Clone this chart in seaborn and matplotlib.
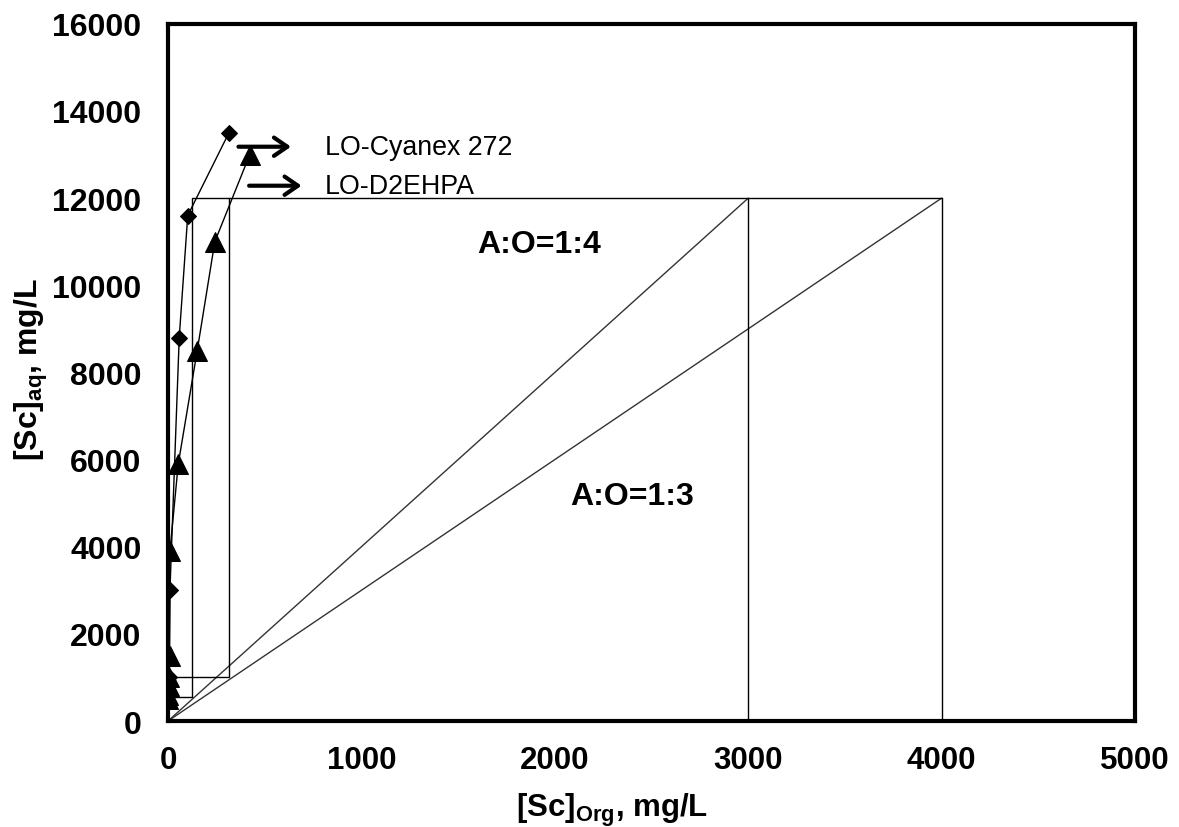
import matplotlib
matplotlib.use("Agg")
import matplotlib.pyplot as plt
import seaborn as sns
import pandas as pd

# Equilibrium data
cyanex_org = [2, 5, 10, 58, 102, 315]
cyanex_aq = [600, 1000, 3000, 8800, 11600, 13500]

d2ehpa_org = [0, 2, 4, 6, 8, 10, 53, 151, 242, 423]
d2ehpa_aq = [500, 600, 800, 1000, 1500, 3900, 5900, 8500, 11000, 13000]

# Operating lines and stage steps
op_lines = {"A:O=1:4": ([0, 3000], [0, 12000]), "A:O=1:3": ([0, 4000], [0, 12000])}
step_cyanex = ([20, 122, 122, 4000], [550, 550, 12000, 12000])
step_d2ehpa = ([20, 315, 315], [1000, 1000, 12000])
drop_lines = [3000, 4000]

sns.set_theme(style="white")
plt.rcParams["font.family"] = ["Liberation Sans", "DejaVu Sans"]
plt.rcParams["mathtext.fontset"] = "custom"
plt.rcParams["mathtext.rm"] = "Liberation Sans:bold"
plt.rcParams["mathtext.it"] = "Liberation Sans:bold"
for key in ["text.color", "axes.labelcolor", "xtick.color", "ytick.color"]:
    plt.rcParams[key] = "black"

fig, ax = plt.subplots(figsize=(11.79, 8.28), dpi=100)
fig.subplots_adjust(left=0.1425, right=0.9627, bottom=0.128, top=0.97)

df_c = pd.DataFrame({"org": cyanex_org, "aq": cyanex_aq})
df_d = pd.DataFrame({"org": d2ehpa_org, "aq": d2ehpa_aq})

sns.lineplot(data=df_c, x="org", y="aq", sort=False, estimator=None, color="black",
             lw=1.0, marker="D", markersize=8, markeredgecolor="black", ax=ax)
sns.lineplot(data=df_d, x="org", y="aq", sort=False, estimator=None, color="black",
             lw=1.0, marker="^", markersize=14, markeredgecolor="black", ax=ax)

for name, (xs, ys) in op_lines.items():
    ax.plot(xs, ys, color="#333333", lw=1.0)
ax.plot(*step_cyanex, color="black", lw=1.0)
ax.plot(*step_d2ehpa, color="black", lw=1.0)
for xv in drop_lines:
    ax.plot([xv, xv], [0, 12000], color="black", lw=1.0)

# arrows and labels
arrow = dict(arrowstyle="->,head_length=0.8,head_width=0.55", lw=3, color="black")
ax.annotate("", xy=(650, 13180), xytext=(350, 13180), arrowprops=arrow)
ax.annotate("", xy=(705, 12285), xytext=(405, 12285), arrowprops=arrow)
ax.text(810, 13180, "LO-Cyanex 272", fontsize=19.3, va="center", ha="left")
ax.text(810, 12285, "LO-D2EHPA", fontsize=19.3, va="center", ha="left")

ax.text(1920, 10950, "A:O=1:4", fontsize=23, fontweight="bold", ha="center", va="center")
ax.text(2400, 5170, "A:O=1:3", fontsize=23, fontweight="bold", ha="center", va="center")

ax.set_xlim(0, 5000)
ax.set_ylim(0, 16000)
ax.set_xticks(range(0, 5001, 1000))
ax.set_yticks(range(0, 16001, 2000))
ax.tick_params(direction="in", length=7, width=1, color="black")
ax.tick_params(axis="y", pad=19)
ax.tick_params(axis="x", pad=17)
for lab in ax.get_yticklabels():
    lab.set_fontsize(23)
    lab.set_fontweight("bold")
for lab in ax.get_xticklabels():
    lab.set_fontsize(22.5)
    lab.set_fontweight("bold")

ax.set_xlabel(r"[Sc]$_{\mathrm{Org}}$, mg/L", fontsize=22.5, fontweight="bold", va="top")
ax.xaxis.set_label_coords(0.459, -0.100)
ax.set_ylabel(r"[Sc]$_{\mathrm{aq}}$, mg/L", fontsize=23, fontweight="bold")
ax.yaxis.set_label_coords(-0.122, 0.505)

for sp in ax.spines.values():
    sp.set_linewidth(3)
    sp.set_color("black")

fig.savefig("out.png", dpi=100)
